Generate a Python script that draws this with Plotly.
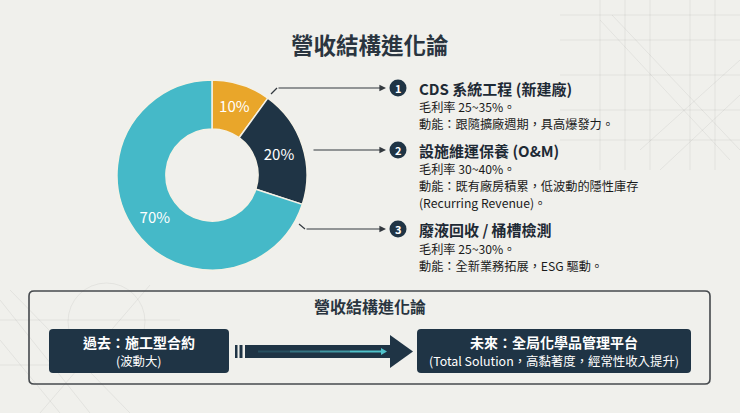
import plotly.graph_objects as go

# ---------------- data ----------------
segments = ["CDS 系統工程", "設施維運保養", "廢液回收 / 桶槽檢測"]
shares = [10, 20, 70]
slice_colors = ["#E9A62A", "#1F3445", "#45B9C8"]

title_text = "營收結構進化論"
item_numbers = ["1", "2", "3"]
item_titles = ["CDS 系統工程 (新建廠)", "設施維運保養 (O&M)", "廢液回收 / 桶槽檢測"]
item_lines = [
    ["毛利率 25~35%。", "動能：跟隨擴廠週期，具高爆發力。"],
    ["毛利率 30~40%。", "動能：既有廠房積累，低波動的隱性庫存", "(Recurring Revenue)。"],
    ["毛利率 25~30%。", "動能：全新業務拓展，ESG 驅動。"],
]
box_title = "營收結構進化論"
past_lines = ["過去：施工型合約", "(波動大)"]
future_lines = ["未來：全局化學品管理平台", "(Total Solution，高黏著度，經常性收入提升)"]

# ---------------- style ----------------
W, H = 740, 413
BG = "#F0F0EC"
NAVY = "#1F3445"
TEXT = "#1E2A35"
FONT = "Noto Sans CJK TC"

fig = go.Figure()

# donut
cx, cy, R = 212, 175, 95
fig.add_trace(go.Pie(
    labels=segments, values=shares, sort=False, direction="clockwise", rotation=0,
    hole=0.485,
    marker=dict(colors=slice_colors, line=dict(color="#F4F1E6", width=1.5)),
    textinfo="percent", texttemplate="%{value}%", textposition="inside",
    insidetextorientation="horizontal",
    textfont=dict(family=FONT, size=15, color="#FFFFFF"),
    domain=dict(x=[(cx - R) / W, (cx + R) / W], y=[1 - (cy + R) / H, 1 - (cy - R) / H]),
    showlegend=False, hoverinfo="label+percent",
))

shapes = []
annotations = []

# faint decorative background lines
deco = "rgba(60,60,60,0.07)"
for x in [600, 625, 650, 690, 715]:
    shapes.append(dict(type="line", x0=x, y0=0, x1=x, y1=170, line=dict(color=deco, width=1), layer="below"))
for y in [15, 40, 75, 110, 140]:
    shapes.append(dict(type="line", x0=560, y0=y, x1=740, y1=y, line=dict(color=deco, width=1), layer="below"))
for (x0, y0, x1, y1) in [(600, 20, 730, 160), (612, 15, 740, 150), (640, 150, 740, 60), (660, 170, 740, 95)]:
    shapes.append(dict(type="line", x0=x0, y0=y0, x1=x1, y1=y1, line=dict(color=deco, width=1), layer="below"))
for (x0, y0, x1, y1) in [(0, 300, 90, 413), (0, 340, 60, 413), (40, 413, 150, 285), (10, 290, 130, 413), (0, 320, 180, 320), (0, 365, 140, 365)]:
    shapes.append(dict(type="line", x0=x0, y0=y0, x1=x1, y1=y1, line=dict(color=deco, width=1), layer="below"))
shapes.append(dict(type="circle", x0=68, y0=283, x1=145, y1=360, line=dict(color=deco, width=1), layer="below"))

# title
annotations.append(dict(x=370, y=44, text="<b>" + title_text + "</b>", showarrow=False,
                        font=dict(family=FONT, size=22.5, color="#2A3540"), xanchor="center", yanchor="middle"))

# connector lines + arrows
line_col = "#33393F"
head_y = [88, 150, 229]
starts = [(271, 94), (312, 150), (299, 224)]
bends = [(277, 88), (312, 150), (305, 229)]
for (sx, sy), (bx, by), hy in zip(starts, bends, head_y):
    if (sx, sy) != (bx, by):
        shapes.append(dict(type="line", x0=sx, y0=sy, x1=bx, y1=by, line=dict(color=line_col, width=1.2)))
    annotations.append(dict(x=386, y=hy, ax=bx, ay=hy, xref="x", yref="y", axref="x", ayref="y",
                            text="", showarrow=True, arrowhead=2, arrowsize=1.1, arrowwidth=1.2,
                            arrowcolor=line_col, standoff=0))

# numbered items
num_x, text_x = 398, 418
body_ys = [[106.5, 123.5], [168.5, 185.5, 203], [248.5, 265.5]]
for n, t, lines, hy, bys in zip(item_numbers, item_titles, item_lines, head_y, body_ys):
    shapes.append(dict(type="circle", x0=num_x - 8.5, y0=hy - 8.5, x1=num_x + 8.5, y1=hy + 8.5,
                       fillcolor=NAVY, line=dict(width=0)))
    annotations.append(dict(x=num_x, y=hy, text="<b>" + n + "</b>", showarrow=False,
                            font=dict(family=FONT, size=11, color="white"), xanchor="center", yanchor="middle"))
    annotations.append(dict(x=text_x, y=hy, text="<b>" + t + "</b>", showarrow=False, borderpad=0,
                            font=dict(family=FONT, size=15, color=TEXT), xanchor="left", yanchor="middle"))
    for ln, by in zip(lines, bys):
        annotations.append(dict(x=text_x, y=by, text=ln, showarrow=False, borderpad=0,
                                font=dict(family=FONT, size=12.2, color="#1A1A1A"), xanchor="left", yanchor="middle"))


def rrect(x0, y0, x1, y1, r):
    return (f"M {x0+r},{y0} L {x1-r},{y0} Q {x1},{y0} {x1},{y0+r} L {x1},{y1-r} Q {x1},{y1} {x1-r},{y1} "
            f"L {x0+r},{y1} Q {x0},{y1} {x0},{y1-r} L {x0},{y0+r} Q {x0},{y0} {x0+r},{y0} Z")


# bottom outline box
shapes.append(dict(type="path", path=rrect(29, 291, 710, 384, 5), line=dict(color="#45494D", width=1.6)))
annotations.append(dict(x=370, y=306, text="<b>" + box_title + "</b>", showarrow=False,
                        font=dict(family=FONT, size=16, color="#2A3540"), xanchor="center", yanchor="middle"))

# past / future boxes
shapes.append(dict(type="path", path=rrect(49, 329, 229, 373, 4), fillcolor=NAVY, line=dict(width=0)))
shapes.append(dict(type="path", path=rrect(417, 329, 691, 373, 4), fillcolor=NAVY, line=dict(width=0)))
for cxb, lines in [(139, past_lines), (554, future_lines)]:
    annotations.append(dict(x=cxb, y=341.5, text="<b>" + lines[0] + "</b>", showarrow=False, borderpad=0,
                            font=dict(family=FONT, size=14, color="white"), xanchor="center", yanchor="middle"))
    annotations.append(dict(x=cxb, y=361, text=lines[1], showarrow=False, borderpad=0,
                            font=dict(family=FONT, size=12.4, color="white"), xanchor="center", yanchor="middle"))

# big arrow
shapes.append(dict(type="rect", x0=235, y0=345, x1=237.5, y1=358, fillcolor=NAVY, line=dict(width=0)))
shapes.append(dict(type="rect", x0=239.5, y0=345, x1=242.5, y1=358, fillcolor=NAVY, line=dict(width=0)))
shapes.append(dict(type="rect", x0=245, y0=345, x1=391, y1=358, fillcolor=NAVY, line=dict(width=0)))
shapes.append(dict(type="path", path="M 390,335 L 413,351.5 L 390,368 Z", fillcolor=NAVY, line=dict(width=0)))
# inner teal gradient line
segs = [(258, 290, 0.2), (290, 320, 0.45), (320, 350, 0.7), (350, 382, 1.0)]
for x0, x1, op in segs:
    shapes.append(dict(type="line", x0=x0, y0=351.5, x1=x1, y1=351.5,
                       line=dict(color=f"rgba(80,195,203,{op})", width=2)))
shapes.append(dict(type="path", path="M 381,348 L 387,351.5 L 381,355 Z", fillcolor="#50C3CB", line=dict(width=0)))

fig.update_layout(
    width=W, height=H, autosize=False,
    margin=dict(l=0, r=0, t=0, b=0),
    paper_bgcolor=BG, plot_bgcolor=BG,
    xaxis=dict(range=[0, W], visible=False, fixedrange=True),
    yaxis=dict(range=[H, 0], visible=False, fixedrange=True),
    shapes=shapes, annotations=annotations,
    font=dict(family=FONT),
)

fig.write_html("out.html", config={"displayModeBar": False},
               post_script="document.body.style.margin='0';document.body.style.background='%s';" % BG)
